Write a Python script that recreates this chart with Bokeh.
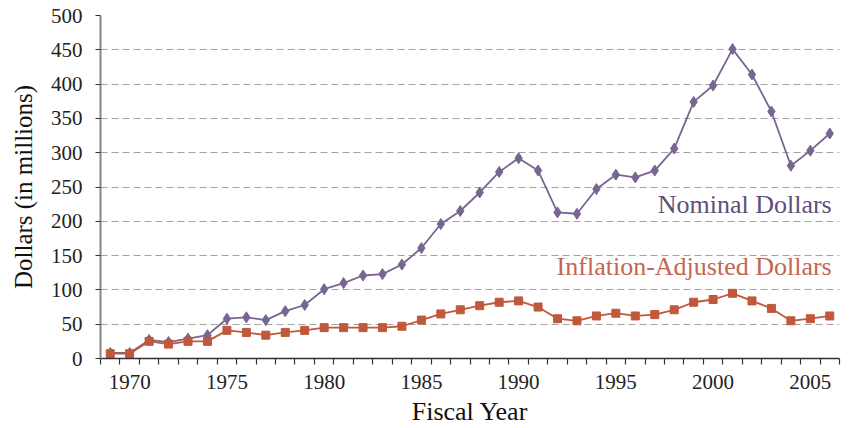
from bokeh.plotting import figure
from bokeh.models import FixedTicker, Label
from bokeh.core.properties import value
from bokeh.embed import file_html
from bokeh.resources import INLINE

years = list(range(1969, 2007))
nominal = [8, 8, 27, 24, 29, 34, 58, 60, 56, 69, 78, 101, 110, 121, 123, 137,
           161, 196, 215, 242, 272, 292, 274, 213, 211, 247, 268, 264, 274, 306,
           374, 398, 451, 414, 360, 281, 303, 328]
adjusted = [7, 7, 25, 21, 25, 25, 41, 38, 34, 38, 41, 45, 45, 45, 45, 47,
            56, 65, 71, 77, 82, 84, 75, 58, 55, 62, 66, 62, 64, 71,
            82, 86, 95, 84, 73, 55, 58, 62]
y_ticks = [0, 50, 100, 150, 200, 250, 300, 350, 400, 450, 500]
x_label_ticks = [1970, 1975, 1980, 1985, 1990, 1995, 2000, 2005]
title_text = "Fiscal Years 1969-2006"
series_names = ["Nominal Dollars", "Inflation-Adjusted Dollars"]

PURPLE = "#786592"
PURPLE_TXT = "#5f5079"
RED = "#c0583c"
RED_TXT = "#c46650"
FONT = "Liberation Serif"

p = figure(width=851, height=428, output_backend="svg", toolbar_location=None,
           x_range=(1968.5, 2006.5), y_range=(0, 500),
           min_border_left=100, min_border_right=12, min_border_top=15,
           min_border_bottom=70)
p.outline_line_color = None
p.background_fill_color = "white"
p.border_fill_color = "white"

# grid
p.xgrid.grid_line_color = None
p.ygrid.grid_line_color = "#a3a3a3"
p.ygrid.grid_line_dash = "7 4"
p.ygrid.grid_line_width = 1

# y axis
p.yaxis.ticker = FixedTicker(ticks=y_ticks)
p.yaxis.axis_line_color = "#868686"
p.yaxis.axis_line_width = 2
p.yaxis.major_tick_out = 5
p.yaxis.major_tick_in = 0
p.yaxis.major_tick_line_color = "#333333"
p.yaxis.minor_tick_line_color = None
p.yaxis.major_label_text_font = FONT
p.yaxis.major_label_text_font_size = "21px"
p.yaxis.major_label_text_color = "#222222"
p.yaxis.major_label_standoff = 13
p.yaxis.axis_label = "Dollars (in millions)"
p.yaxis.axis_label_text_font = FONT
p.yaxis.axis_label_text_font_size = "25px"
p.yaxis.axis_label_text_font_style = "normal"
p.yaxis.axis_label_text_color = "#111111"
p.yaxis.axis_label_standoff = 11

# x axis
p.xaxis.ticker = FixedTicker(ticks=x_label_ticks,
                             minor_ticks=[y - 0.5 for y in years] + [years[-1] + 0.5])
p.xaxis.axis_line_color = "#333333"
p.xaxis.axis_line_width = 1.5
p.xaxis.major_tick_out = 0
p.xaxis.major_tick_in = 0
p.xaxis.minor_tick_out = 6
p.xaxis.minor_tick_in = 0
p.xaxis.minor_tick_line_color = "#333333"
p.xaxis.minor_tick_line_width = 1.2
p.xaxis.major_label_text_font = FONT
p.xaxis.major_label_text_font_size = "21px"
p.xaxis.major_label_text_color = "#222222"
p.xaxis.major_label_standoff = 10
p.xaxis.axis_label = "Fiscal Year"
p.xaxis.axis_label_text_font = FONT
p.xaxis.axis_label_text_font_size = "26px"
p.xaxis.axis_label_text_font_style = "normal"
p.xaxis.axis_label_text_color = "#111111"
p.xaxis.axis_label_standoff = 5

# series
p.line(years, nominal, line_color=PURPLE, line_width=1.8)
p.scatter(years, nominal, marker="diamond", size=11, fill_color=PURPLE, line_color=PURPLE)
p.line(years, adjusted, line_color=RED, line_width=1.8)
p.scatter(years, adjusted, marker="square", size=8, fill_color=RED, line_color=RED)

# series labels as text glyphs
p.text(x=[2006.1, 2006.1], y=[225, 134], text=series_names,
       text_align="right", text_baseline="alphabetic",
       text_font=value(FONT), text_font_size="26px",
       text_color=[PURPLE_TXT, RED_TXT])

# title (cut off at the top edge, as in the reference)
p.add_layout(Label(x=1986.8, y=516, text=title_text, text_align="center",
                   text_baseline="alphabetic", text_font=FONT,
                   text_font_style="normal",
                   text_font_size="27px", text_color="#111111"))

open("out.html", "w").write(file_html(p, INLINE))
